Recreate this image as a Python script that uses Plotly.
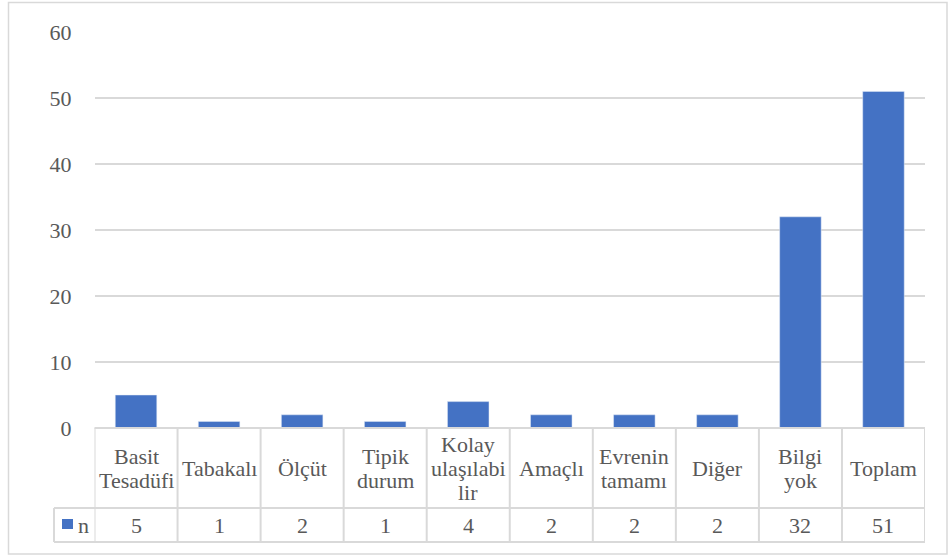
import plotly.graph_objects as go

categories = ["Basit<br>Tesadüfi", "Tabakalı", "Ölçüt", "Tipik<br>durum", "Kolay<br>ulaşılabi<br>lir",
              "Amaçlı", "Evrenin<br>tamamı", "Diğer", "Bilgi<br>yok", "Toplam"]
values = [5, 1, 2, 1, 4, 2, 2, 2, 32, 51]
series_name = "n"
y_ticks = [0, 10, 20, 30, 40, 50, 60]

W, H = 948, 556
def px(x): return x / W
def py(y): return (H - y) / H

FONT = "Liberation Serif, Times New Roman, serif"
TXT = "#595959"
LINE = "#d9d9d9"
BAR = "#4472c4"
FS = 22
LINE_STEP = 24

x_left, x_right = 94.5, 925
y_zero, y_top = 428, 32
row1_bot, row2_bot = 508, 542
leg_left = 54

idx = list(range(len(categories)))

fig = go.Figure()
fig.add_trace(go.Bar(x=idx, y=values, marker_color=BAR, name=series_name, showlegend=False,
                     hoverinfo="skip"))

shapes = []
annotations = []
# outer border
shapes.append(dict(type="rect", xref="paper", yref="paper", x0=px(8.5), x1=px(947), y0=py(554), y1=py(2.5),
                   line=dict(color=LINE, width=1.5)))
# horizontal table lines
shapes.append(dict(type="line", xref="paper", yref="paper", x0=px(x_left), x1=px(x_right), y0=py(y_zero), y1=py(y_zero),
                   line=dict(color=LINE, width=2)))
for yy in (row1_bot, row2_bot):
    shapes.append(dict(type="line", xref="paper", yref="paper", x0=px(leg_left), x1=px(x_right), y0=py(yy), y1=py(yy),
                       line=dict(color=LINE, width=2)))
# vertical table lines
for i in range(len(categories) + 1):
    shapes.append(dict(type="line", xref="x", yref="paper", x0=i - 0.5, x1=i - 0.5, y0=py(row2_bot), y1=py(y_zero),
                       line=dict(color=LINE, width=2)))
shapes.append(dict(type="line", xref="paper", yref="paper", x0=px(leg_left), x1=px(leg_left), y0=py(row2_bot), y1=py(row1_bot),
                   line=dict(color=LINE, width=2)))
# legend key
shapes.append(dict(type="rect", xref="paper", yref="paper", x0=px(62), x1=px(73), y0=py(529), y1=py(519),
                   fillcolor=BAR, line=dict(width=0)))
annotations.append(dict(xref="paper", yref="paper", x=px(76), y=py(525), text=series_name, showarrow=False,
                        xanchor="left", yanchor="middle", font=dict(family=FONT, size=FS, color=TXT)))

hdr_mid = py((y_zero + row1_bot) / 2)
for i, (c, v) in enumerate(zip(categories, values)):
    parts = c.split("<br>")
    n = len(parts)
    for k, part in enumerate(parts):
        annotations.append(dict(xref="x", yref="paper", x=i, y=hdr_mid, yshift=-(k - (n - 1) / 2) * LINE_STEP,
                                text=part, showarrow=False, xanchor="center", yanchor="middle",
                                font=dict(family=FONT, size=FS, color=TXT)))
    annotations.append(dict(xref="x", yref="paper", x=i, y=py((row1_bot + row2_bot) / 2), text=str(v), showarrow=False,
                            xanchor="center", yanchor="middle", font=dict(family=FONT, size=FS, color=TXT)))

fig.update_layout(
    width=W, height=H, margin=dict(l=0, r=0, t=0, b=0, autoexpand=False),
    paper_bgcolor="white", plot_bgcolor="white",
    bargap=0.5,
    shapes=shapes, annotations=annotations,
    xaxis=dict(domain=[px(x_left), px(x_right)], range=[-0.5, len(categories) - 0.5], automargin=False,
               showticklabels=False, showgrid=False, zeroline=False, showline=False, ticks=""),
    yaxis=dict(domain=[py(y_zero), py(y_top)], range=[0, 60], tickvals=y_ticks, automargin=False,
               showgrid=True, gridcolor=LINE, gridwidth=1.5, zeroline=False, showline=False,
               ticks="", ticklabelstandoff=22,
               tickfont=dict(family=FONT, size=FS, color=TXT)),
    font=dict(family=FONT, color=TXT),
)

fig.write_html("out.html", config={"displayModeBar": False},
               post_script="document.body.style.margin='0';document.body.style.overflow='hidden';")
